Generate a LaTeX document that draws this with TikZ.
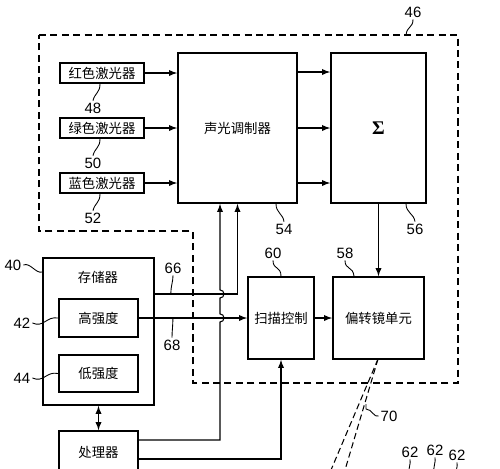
\documentclass[tikz,border=0pt]{standalone}
\usepackage{fontspec}
\newfontfamily\cjk{Noto Sans CJK SC}
\newfontfamily\numfont{Liberation Sans}
\newfontfamily\grk{Liberation Serif}
\usepackage{tikz}

\begin{document}
\begin{tikzpicture}[x=0.02cm,y=-0.02cm,>=latex]
\tikzset{
  blk/.style={draw,line width=1pt,inner sep=0pt,font=\cjk\fontsize{7.6}{9}\selectfont},
  txt/.style={inner sep=0pt,font=\cjk\fontsize{7.6}{9}\selectfont},
  wire/.style={line width=0.6pt},
  lead/.style={line width=0.5pt},
  num/.style={inner sep=1pt,font=\numfont\fontsize{8.5}{10}\selectfont},
  frame46/.style={line width=0.7pt,dash pattern=on 4pt off 2.5pt},
  beamline/.style={line width=0.6pt,dash pattern=on 3.5pt off 2pt},
}
\clip (0,0) rectangle (500,468);

% lasers, modulator, summer
\node[blk,minimum width=1.68cm,minimum height=0.40cm] (red) at (102,73) {红色激光器};
\node[blk,minimum width=1.68cm,minimum height=0.40cm] (green) at (102,128) {绿色激光器};
\node[blk,minimum width=1.68cm,minimum height=0.40cm] (blue) at (102,183) {蓝色激光器};
\node[blk,minimum width=2.38cm,minimum height=3.0cm] (mod) at (237.5,128) {声光调制器};
\node[blk,minimum width=1.90cm,minimum height=3.0cm] (sigma) at (378.5,128) {\grk\bfseries\fontsize{11}{12}\selectfont Σ};

% memory and processor
\node[blk,minimum width=2.22cm,minimum height=2.94cm] (mem) at (98.5,331.5) {};
\node[txt] (memt) at (98,277) {存储器};
\node[blk,minimum width=1.58cm,minimum height=0.76cm] (high) at (98.5,318) {高强度};
\node[blk,minimum width=1.58cm,minimum height=0.74cm] (low) at (98.5,373.5) {低强度};
\node[blk,minimum width=1.58cm,minimum height=0.84cm] (proc) at (98.5,452) {处理器};

% scan control and deflector
\node[blk,minimum width=1.32cm,minimum height=1.64cm] (scan) at (281,318) {扫描控制};
\node[blk,minimum width=1.82cm,minimum height=1.64cm] (defl) at (378.5,318) {偏转镜单元};

\draw[frame46] (39,35) -- (458,35) -- (458,383) -- (193,383) -- (193,231) -- (39,231) -- cycle;

\foreach \n in {red,green,blue}
  \draw[wire,->] (\n.east) -- (\n.east -| mod.west);
\foreach \y in {72,128,183}
  \draw[wire,->] (mod.east |- 0,\y) -- (sigma.west |- 0,\y);
\draw[wire,->] (sigma.south) -- (defl.north);
\draw[wire,->] (scan.east) -- (defl.west);
\draw[wire,<->] (mem.south) -- (proc.north);
\draw[wire,->] (mem.east |- 0,294) -| (mod.south);
\draw[wire,->] (high.east) -- (scan.west);
\draw[wire,->] (proc.east |- 0,440) -- (220,440) -- (220,322)
  arc[start angle=-90,end angle=90,radius=2.3pt] -- (220,298)
  arc[start angle=-90,end angle=90,radius=2.3pt] -- (mod.south -| 220,0);
\draw[wire,->] (proc.east |- 0,459) -| (scan.south);

% scanned beams
\coordinate (beam) at (378,359);
\coordinate (b1) at (331,470);
\coordinate (b2) at (345,470);
\draw[beamline] (beam) -- (b1);
\draw[beamline] (beam) -- (b2);

% reference numerals
\node[num] (l46) at (413,12) {46};
\node[num] (l48) at (93,108) {48};
\node[num] (l50) at (93,163) {50};
\node[num] (l52) at (93,218) {52};
\node[num] (l54) at (284,229) {54};
\node[num] (l56) at (415,229) {56};
\node[num] (l40) at (13,265) {40};
\node[num] (l42) at (22,323) {42};
\node[num] (l44) at (22,378) {44};
\node[num] (l66) at (173,268) {66};
\node[num] (l68) at (172,345) {68};
\node[num] (l60) at (273,253) {60};
\node[num] (l58) at (345,253) {58};
\node[num] (l70) at (389,416) {70};
\node[num] (l62a) at (410,452) {62};
\node[num] (l62b) at (435,450) {62};
\node[num] (l62c) at (457,455) {62};

\draw[lead] (l46.south) .. controls (413,28) and (407,26) .. (406,35);
\foreach \n/\l in {red/l48,green/l50,blue/l52}
  \draw[lead] (\n.south -| 100,0) .. controls +(0,9) and +(2,-8) .. (\l.north);
\draw[lead] (mod.south -| 276,0) .. controls +(0,9) and +(-1,-8) .. (l54.north);
\draw[lead] (sigma.south -| 406,0) .. controls +(0,9) and +(-1,-8) .. (l56.north);
\draw[lead] (l40.east) .. controls (30,262) and (36,274) .. (mem.west |- 0,272);
\draw[lead] (l42.east) .. controls (44,328) and (46,316) .. (high.west);
\draw[lead] (l44.east) .. controls (44,383) and (46,371) .. (low.west);
\draw[lead] (mem.east |- 0,294) ++(16,0) .. controls +(0,-9) and +(0,7) .. (l66.south);
\draw[lead] (high.east) ++(34,0) .. controls +(0,9) and +(0,-7) .. (l68.north);
\draw[lead] (l60.south) .. controls (273,270) and (281,266) .. (scan.north);
\draw[lead] (l58.south) .. controls (345,270) and (353,266) .. (defl.north -| 354,0);
\draw[lead] (l70.west) .. controls (374,418) and (372,409) .. (366,409) -- (366,404);
\foreach \l in {l62a,l62b,l62c}
  \draw[lead] (\l.south) .. controls +(1,4) and +(-1,-3) .. +(-1,14);
\end{tikzpicture}
\end{document}
